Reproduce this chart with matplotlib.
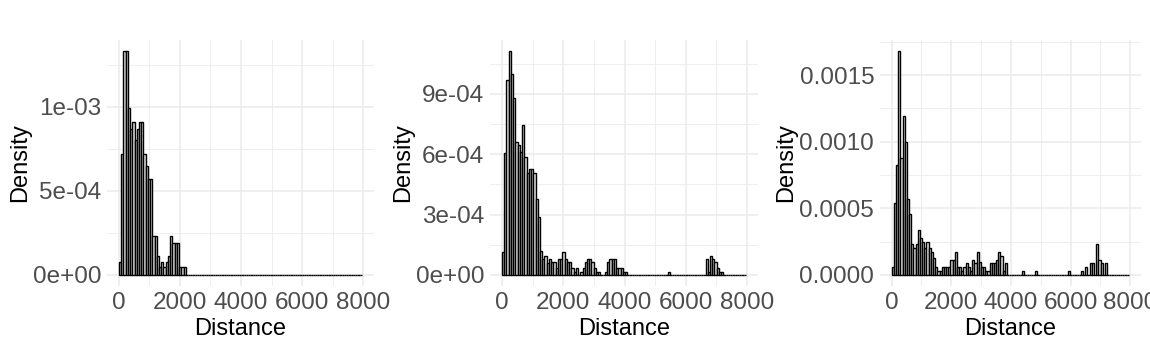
import numpy as np
import matplotlib
matplotlib.use("Agg")
import matplotlib.pyplot as plt

plt.rcParams['font.family'] = ['Liberation Sans', 'DejaVu Sans']

# shared histogram bins (density per bin), bin width in metres
binwidth = 73
nbins = 109

dens1 = [7.5e-5, 7.2e-4, 1.33e-3, 1.33e-3, 9.9e-4, 8.7e-4, 9.1e-4, 8.0e-4, 8.7e-4, 9.1e-4,
         9.1e-4, 7.2e-4, 6.45e-4, 5.7e-4, 5.7e-4, 2.28e-4, 2.28e-4, 1.13e-4, 4.4e-5, 7.5e-5,
         4.4e-5, 7.5e-5, 1.13e-4, 2.28e-4, 1.9e-4, 1.9e-4, 1.9e-4, 4.4e-5, 4.4e-5, 4.4e-5,
         0, 0, 0, 0, 0, 0, 0, 0, 0, 0,
         0, 0, 0, 0, 0, 0, 0, 0, 0, 0,
         0, 0, 0, 0, 0, 0, 0, 0, 0, 0,
         0, 0, 0, 0, 0, 0, 0, 0, 0, 0,
         0, 0, 0, 0, 0, 0, 0, 0, 0, 0,
         0, 0, 0, 0, 0, 0, 0, 0, 0, 0,
         0, 0, 0, 0, 0, 0, 0, 0, 0, 0,
         0, 0, 0, 0, 0, 0, 0, 0, 0]

dens2 = [1.13e-4, 6.04e-4, 9.69e-4, 1.113e-3, 9.97e-4, 8.78e-4, 6.6e-4, 6.46e-4, 6.1e-4, 7.45e-4,
         5.85e-4, 5.08e-4, 5.25e-4, 5.25e-4, 5.08e-4, 3.76e-4, 2.87e-4, 1.19e-4, 7.8e-5, 9.6e-5,
         5.8e-5, 7.8e-5, 6.3e-5, 6.3e-5, 3.6e-5, 7.8e-5, 7.8e-5, 1.13e-4, 7.8e-5, 6.3e-5,
         6.3e-5, 3.3e-5, 1.3e-5, 3.3e-5, 0, 1.3e-5, 3.3e-5, 6.3e-5, 7.8e-5, 7.8e-5,
         6.3e-5, 3.3e-5, 1.3e-5, 1.3e-5, 0, 0, 1.3e-5, 6.3e-5, 7.8e-5, 7.8e-5,
         7.8e-5, 3.3e-5, 3.3e-5, 3.3e-5, 1.3e-5, 1.3e-5, 0, 0, 0, 0,
         0, 0, 0, 0, 0, 0, 0, 0, 0, 0,
         0, 0, 0, 0, 1.3e-5, 0, 0, 0, 0, 0,
         0, 0, 0, 0, 0, 0, 0, 0, 0, 0,
         0, 7.8e-5, 1.3e-5, 9.4e-5, 7.8e-5, 6.3e-5, 3.3e-5, 1.3e-5, 1.3e-5, 0,
         0, 0, 0, 0, 0, 0, 0, 0, 0]

dens3 = [5.8e-5, 5.4e-4, 8.25e-4, 1.68e-3, 8.8e-4, 1.19e-3, 9.95e-4, 5.7e-4, 4.6e-4, 2.3e-4,
         2.0e-4, 2.3e-4, 3.4e-4, 2.8e-4, 2.5e-4, 2.0e-4, 2.5e-4, 2.0e-4, 1.7e-4, 1.3e-4,
         5.5e-5, 2.5e-5, 2.5e-5, 5.5e-5, 5.5e-5, 5.5e-5, 5.5e-5, 1.1e-4, 1.1e-4, 1.7e-4,
         5.5e-5, 5.5e-5, 2.5e-5, 5.5e-5, 8.8e-5, 5.5e-5, 2.5e-5, 1.1e-4, 8.8e-5, 1.7e-4,
         1.0e-4, 5.5e-5, 5.5e-5, 2.5e-5, 2.5e-5, 8.8e-5, 8.8e-5, 8.8e-5, 1.1e-4, 1.7e-4,
         1.4e-4, 2.5e-5, 8.8e-5, 0, 0, 0, 0, 0, 0, 0,
         2.5e-5, 0, 0, 0, 0, 0, 2.5e-5, 0, 0, 0,
         0, 0, 0, 0, 0, 0, 0, 0, 0, 0,
         0, 2.5e-5, 0, 0, 0, 0, 0, 2.5e-5, 0, 5.5e-5,
         0, 8.8e-5, 8.8e-5, 0, 2.3e-4, 1.1e-4, 8.8e-5, 0, 8.8e-5, 0,
         0, 0, 0, 0, 0, 0, 0, 0, 0]

x_ticks = [0, 2000, 4000, 6000, 8000]
x_ticklabels = ['0', '2000', '4000', '6000', '8000']

y_ticks = [[0, 5e-4, 1e-3],
           [0, 3e-4, 6e-4, 9e-4],
           [0, 5e-4, 1e-3, 1.5e-3]]
y_ticklabels = [['0e+00', '5e-04', '1e-03'],
                ['0e+00', '3e-04', '6e-04', '9e-04'],
                ['0.0000', '0.0005', '0.0010', '0.0015']]

panels = [dens1, dens2, dens3]

# axes boxes in pixels (left, right) for a 1150x350 figure
W, H = 1150, 350
boxes = [(106.8, 373.9), (489.8, 758.0), (879.8, 1140.7)]
top_px, bot_px = 40, 286

fig = plt.figure(figsize=(11.5, 3.5), dpi=100)
grid_col = '#EBEBEB'

edges = np.arange(nbins) * binwidth

for i, dens in enumerate(panels):
  l, r = boxes[i]
  ax = fig.add_axes([l / W, (H - bot_px) / H, (r - l) / W, (bot_px - top_px) / H])
  ax.bar(edges, dens, width=binwidth, align='edge', color='#D9D9D9',
         edgecolor='black', linewidth=1.0, zorder=3)

  xr = nbins * binwidth
  ax.set_xlim(-0.05 * xr, xr * 1.05)
  ymax = max(dens)
  ax.set_ylim(-0.05 * ymax, ymax * 1.05)

  ax.set_xticks(x_ticks)
  ax.set_xticklabels(x_ticklabels)
  ax.set_yticks(y_ticks[i])
  ax.set_yticklabels(y_ticklabels[i])

  # minor grid halfway between major breaks
  yt = y_ticks[i]
  step = yt[1] - yt[0]
  ax.set_xticks([1000, 3000, 5000, 7000], minor=True)
  ax.set_yticks([v + step / 2 for v in yt], minor=True)

  ax.grid(which='major', color=grid_col, linewidth=1.1, zorder=0)
  ax.grid(which='minor', color=grid_col, linewidth=0.6, zorder=0)
  ax.set_axisbelow(True)
  for s in ax.spines.values():
    s.set_visible(False)
  ax.tick_params(which='both', length=0, labelsize=17.5, labelcolor='#4D4D4D', pad=4)

  ax.set_xlabel('Distance', fontsize=17, color='black', labelpad=3)
  ax.set_ylabel('Density', fontsize=17, color='black', labelpad=1.5)

fig.savefig('out.png', dpi=100)
